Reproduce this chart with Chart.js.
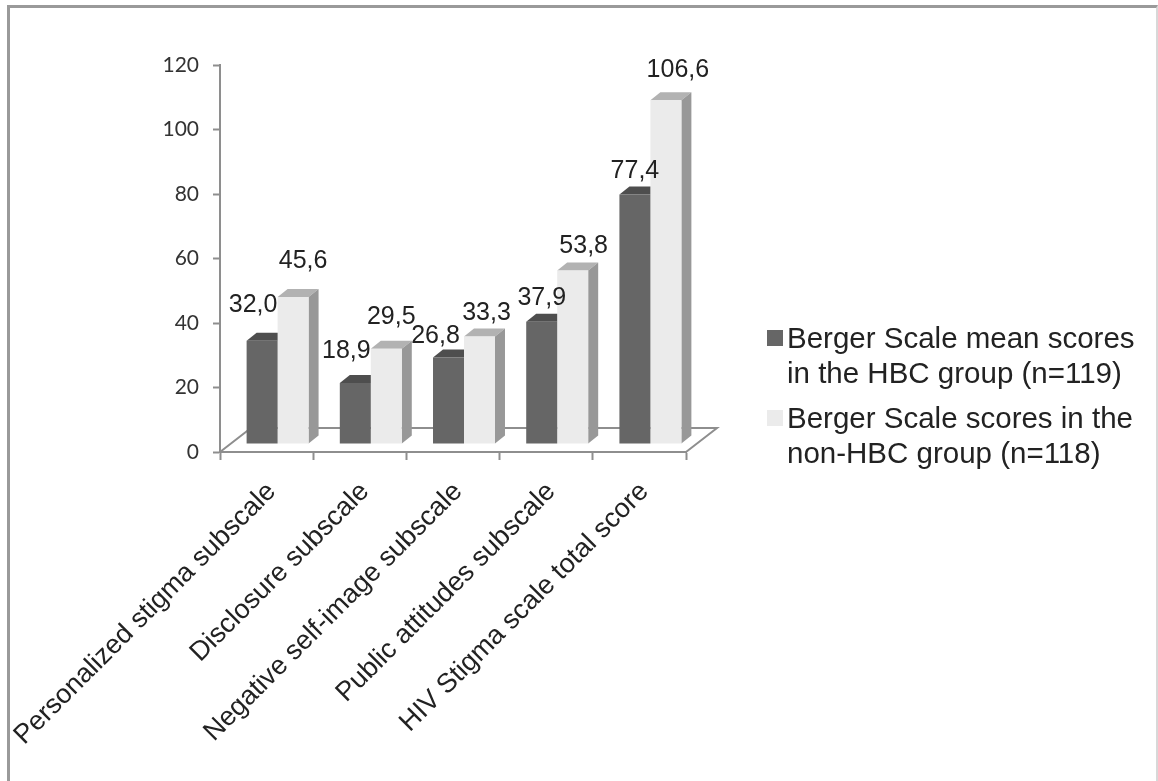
<!DOCTYPE html>
<html>
<head>
<meta charset="utf-8">
<style>
  html, body { margin: 0; padding: 0; background: #fff; overflow: hidden; }
  #frame { position: absolute; left: 0; top: 0; width: 1158px; height: 781px; }
  #frame::before { content: ""; position: absolute; left: 7px; top: 5px; right: 0; bottom: 0;
    border-left: 3px solid #9a9a9a; border-top: 3px solid #9a9a9a; border-right: 2px solid #d8d8d8; }
  canvas { position: absolute; left: 0; top: 0; }
</style>
</head>
<body>
<div id="frame"><canvas id="chart" width="1158" height="781"></canvas></div>
<script src="https://cdn.jsdelivr.net/npm/chart.js@4/dist/chart.umd.min.js"></script>
<script>
const categories = [
  "Personalized stigma subscale",
  "Disclosure subscale",
  "Negative self-image subscale",
  "Public attitudes subscale",
  "HIV Stigma scale total score"
];
const hbcScores = [32.0, 18.9, 26.8, 37.9, 77.4];
const nonHbcScores = [45.6, 29.5, 33.3, 53.8, 106.6];
const hbcLegend = ["Berger Scale mean scores", "in the HBC group (n=119)"];
const nonHbcLegend = ["Berger Scale scores in the", "non-HBC group (n=118)"];
const yTicks = [0, 20, 40, 60, 80, 100, 120];

// Pseudo-3D look: bars sit part-way back on a receding floor.
const BAR_SHIFT = { x: 11, y: -8 };
const BAR_DEPTH = { x: 10, y: -8 };
const FLOOR_DEPTH = { x: 31, y: -24 };
const AXIS_COLOR = "#8e8e8e";
const TEXT_COLOR = "#222";
const SANS = '"Liberation Sans", Arial, sans-serif';

// Hand-placed label nudges, relative to each bar's top centre.
const hbcNudge = [[-9, -29], [-9, -25], [-13, -15], [0, -17], [0, -16]];
const nonHbcNudge = [[10, -29], [5, -25], [7, -17], [11, -17], [12, -23]];

// The front series has no visible side: its neighbour's front face hides it.
const faces = [
  { top: "#4e4e4e", side: null, topRun: 0, nudge: hbcNudge },
  { top: "#b2b2b2", side: "#989898", topRun: BAR_DEPTH.x, nudge: nonHbcNudge }
];

const fmt = v => v.toFixed(1).replace(".", ",");

const bars3d = {
  id: "bars3d",
  beforeDatasetsDraw(chart) {
    const { ctx, chartArea: a } = chart;
    // floor: left edge, back edge, right edge
    ctx.save();
    ctx.strokeStyle = AXIS_COLOR;
    ctx.lineWidth = 2;
    ctx.beginPath();
    ctx.moveTo(a.left, a.bottom);
    ctx.lineTo(a.left + FLOOR_DEPTH.x, a.bottom + FLOOR_DEPTH.y);
    ctx.lineTo(a.right + FLOOR_DEPTH.x, a.bottom + FLOOR_DEPTH.y);
    ctx.lineTo(a.right, a.bottom);
    ctx.stroke();
    ctx.restore();
    // lift the bars off the front axis onto the floor
    ctx.save();
    ctx.translate(BAR_SHIFT.x, BAR_SHIFT.y);
  },
  beforeDatasetDraw(chart, args) {
    const { ctx } = chart;
    const style = faces[args.index];
    chart.getDatasetMeta(args.index).data.forEach(bar => {
      const { x, y, base, width } = bar.getProps(["x", "y", "base", "width"], true);
      const l = x - width / 2, r = x + width / 2;
      ctx.fillStyle = style.top;
      ctx.beginPath();
      ctx.moveTo(l, y);
      ctx.lineTo(l + BAR_DEPTH.x, y + BAR_DEPTH.y);
      ctx.lineTo(r + style.topRun, y + BAR_DEPTH.y);
      ctx.lineTo(r, y);
      ctx.closePath();
      ctx.fill();
      if (style.side) {
        ctx.fillStyle = style.side;
        ctx.beginPath();
        ctx.moveTo(r, y);
        ctx.lineTo(r + BAR_DEPTH.x, y + BAR_DEPTH.y);
        ctx.lineTo(r + BAR_DEPTH.x, base + BAR_DEPTH.y);
        ctx.lineTo(r, base);
        ctx.closePath();
        ctx.fill();
      }
    });
  },
  afterDatasetsDraw(chart) {
    const { ctx } = chart;
    ctx.restore();
    // value labels, decimal comma
    ctx.save();
    ctx.font = "25px " + SANS;
    ctx.fillStyle = TEXT_COLOR;
    ctx.textAlign = "center";
    ctx.textBaseline = "alphabetic";
    chart.data.datasets.forEach((ds, i) => {
      chart.getDatasetMeta(i).data.forEach((bar, j) => {
        const { x, y } = bar.getProps(["x", "y"], true);
        const [dx, dy] = faces[i].nudge[j];
        ctx.fillText(fmt(ds.data[j]), x + BAR_SHIFT.x + dx, y + BAR_SHIFT.y + dy);
      });
    });
    // legend with two-line entries
    const legendX = 787;
    const rows = [
      { swatchY: 330, baselines: [348, 383] },
      { swatchY: 410, baselines: [428, 463] }
    ];
    ctx.textAlign = "left";
    ctx.font = "29.5px " + SANS;
    chart.data.datasets.forEach((ds, i) => {
      ctx.fillStyle = ds.backgroundColor;
      ctx.fillRect(767, rows[i].swatchY, 16, 16);
      ctx.fillStyle = TEXT_COLOR;
      ds.label.forEach((line, k) => ctx.fillText(line, legendX, rows[i].baselines[k]));
    });
    ctx.restore();
  }
};

new Chart(document.getElementById("chart"), {
  type: "bar",
  data: {
    labels: categories,
    datasets: [
      { label: hbcLegend, data: hbcScores, backgroundColor: "#666666" },
      { label: nonHbcLegend, data: nonHbcScores, backgroundColor: "#ebebeb" }
    ]
  },
  options: {
    responsive: false,
    animation: false,
    layout: { padding: { top: 65, right: 472, left: 0, bottom: 0 } },
    plugins: { legend: { display: false }, tooltip: { enabled: false }, title: { display: false } },
    datasets: { bar: { barPercentage: 1, categoryPercentage: 0.665, borderWidth: 0 } },
    scales: {
      x: {
        // fixed plot box: long rotated labels must not push the axis inward
        afterFit(s) { s.height = 329; s.paddingLeft = 0; s.paddingRight = 0; },
        border: { color: AXIS_COLOR, width: 2 },
        grid: { offset: true, drawOnChartArea: false, drawTicks: true, tickLength: 8, tickColor: AXIS_COLOR, tickWidth: 2 },
        ticks: {
          color: TEXT_COLOR, font: { family: SANS, size: 27 },
          minRotation: 45, maxRotation: 45, autoSkip: false, padding: 16, labelOffset: 5
        }
      },
      y: {
        min: 0, max: 120,
        afterFit(s) { s.width = 220; s.paddingTop = 0; s.paddingBottom = 0; },
        afterBuildTicks(s) { s.ticks = yTicks.map(value => ({ value })); },
        border: { color: AXIS_COLOR, width: 2 },
        grid: { drawOnChartArea: false, tickLength: 7, tickColor: AXIS_COLOR, tickWidth: 2 },
        ticks: { color: "#333", font: { family: "Lato", size: 21 }, padding: 14 }
      }
    }
  },
  plugins: [bars3d]
});
</script>
</body>
</html>
